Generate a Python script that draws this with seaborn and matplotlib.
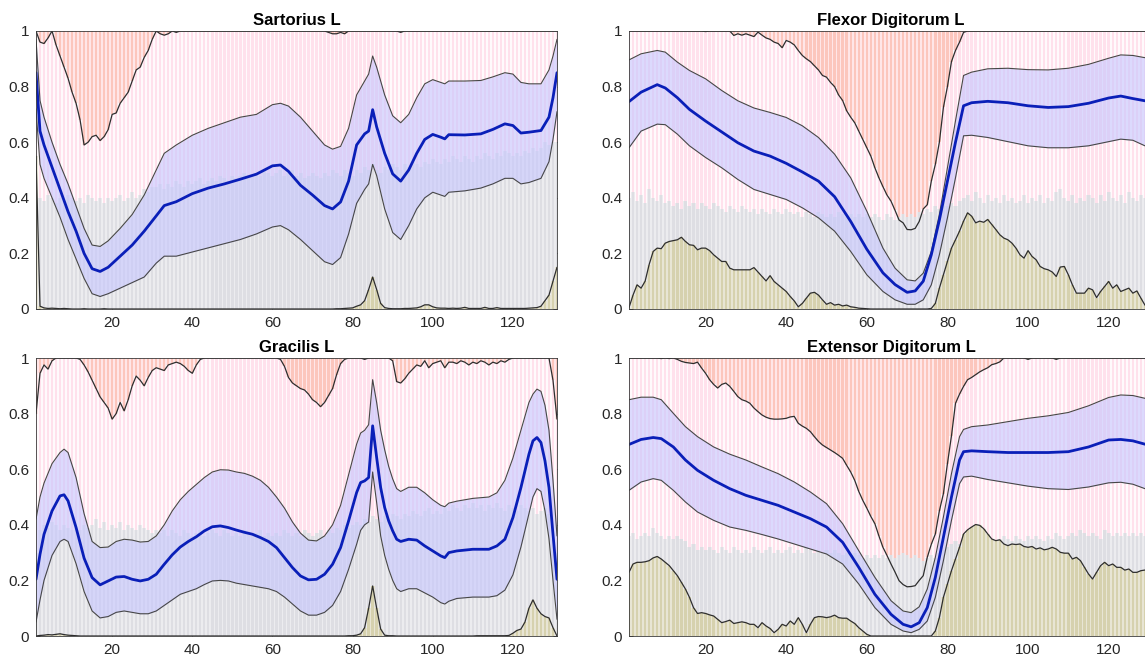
import numpy as np
import pandas as pd
import matplotlib
matplotlib.use("Agg")
import matplotlib.pyplot as plt
import seaborn as sns

# ---------------------------------------------------------------- data
TITLES = ["Sartorius L", "Flexor Digitorum L", "Gracilis L", "Extensor Digitorum L"]
X_TICKS = [20, 40, 60, 80, 100, 120]
Y_TICKS = [0, 0.2, 0.4, 0.6, 0.8, 1]
Y_TICK_LABELS = ["0", "0.2", "0.4", "0.6", "0.8", "1"]

# ---- Sartorius L : mean curve and its band at read-off positions
SART_KX = [1, 2, 3, 5, 7, 9, 11, 13, 15, 17,
           19, 22, 25, 28, 31, 33, 36, 40, 44, 48,
           52, 56, 60, 62, 64, 67, 70, 73, 75, 77,
           79, 81, 83, 84, 85, 86, 88, 90, 92, 94,
           96, 98, 100, 102, 103, 104, 108, 112, 115, 118,
           120, 122, 124, 127, 129, 130, 131]
SART_MEAN = [0.85, 0.64, 0.59, 0.51, 0.43, 0.35, 0.28, 0.20, 0.145, 0.135,
             0.15, 0.19, 0.23, 0.28, 0.335, 0.372, 0.386, 0.415, 0.435, 0.45,
             0.467, 0.485, 0.515, 0.518, 0.495, 0.445, 0.41, 0.372, 0.36, 0.385,
             0.46, 0.59, 0.63, 0.64, 0.717, 0.655, 0.56, 0.486, 0.46, 0.50,
             0.56, 0.61, 0.628, 0.618, 0.612, 0.627, 0.626, 0.63, 0.646, 0.666,
             0.66, 0.633, 0.636, 0.642, 0.69, 0.76, 0.85]
SART_HI = [0.97, 0.75, 0.69, 0.60, 0.52, 0.45, 0.37, 0.29, 0.23, 0.225,
           0.245, 0.29, 0.34, 0.41, 0.50, 0.56, 0.59, 0.625, 0.65, 0.67,
           0.69, 0.70, 0.735, 0.74, 0.73, 0.69, 0.64, 0.59, 0.575, 0.585,
           0.65, 0.77, 0.82, 0.845, 0.91, 0.87, 0.77, 0.695, 0.67, 0.70,
           0.76, 0.81, 0.825, 0.815, 0.81, 0.82, 0.82, 0.822, 0.835, 0.85,
           0.845, 0.815, 0.81, 0.81, 0.86, 0.91, 0.97]
SART_LO = [0.72, 0.52, 0.47, 0.40, 0.33, 0.25, 0.18, 0.11, 0.055, 0.045,
           0.055, 0.075, 0.095, 0.115, 0.165, 0.19, 0.19, 0.205, 0.22, 0.235,
           0.25, 0.27, 0.295, 0.30, 0.285, 0.25, 0.21, 0.17, 0.16, 0.185,
           0.27, 0.38, 0.43, 0.45, 0.52, 0.48, 0.36, 0.275, 0.25, 0.30,
           0.36, 0.40, 0.42, 0.41, 0.405, 0.42, 0.425, 0.435, 0.45, 0.47,
           0.47, 0.45, 0.455, 0.47, 0.53, 0.61, 0.71]
# per-sample (1..131) bar series
SART_UPPER = [1.0, 0.96, 0.955, 0.975, 1.0, 0.95, 0.91, 0.87, 0.83, 0.78,
              0.74, 0.68, 0.59, 0.60, 0.62, 0.625, 0.606, 0.62, 0.645, 0.70,
              0.705, 0.74, 0.76, 0.78, 0.82, 0.86, 0.87, 0.905, 0.93, 0.97,
              1.0, 0.99, 0.985, 0.99, 1.0, 0.995, 1.0, 1.0, 1.0, 1.0,
              1.0, 1.0, 1.0, 1.0, 1.0, 1.0, 1.0, 1.0, 1.0, 1.0,
              1.0, 1.0, 1.0, 1.0, 1.0, 1.0, 1.0, 1.0, 1.0, 1.0,
              1.0, 1.0, 1.0, 1.0, 1.0, 1.0, 1.0, 1.0, 1.0, 1.0,
              1.0, 1.0, 1.0, 0.995, 0.99, 0.99, 0.995, 0.99, 1.0, 1.0,
              1.0, 1.0, 1.0, 1.0, 1.0, 1.0, 1.0, 1.0, 1.0, 1.0,
              1.0, 0.995, 1.0, 1.0, 1.0, 1.0, 1.0, 1.0, 1.0, 1.0,
              1.0, 1.0, 1.0, 1.0, 1.0, 1.0, 1.0, 1.0, 1.0, 1.0,
              1.0, 1.0, 1.0, 1.0, 1.0, 1.0, 1.0, 1.0, 1.0, 1.0,
              1.0, 1.0, 1.0, 1.0, 1.0, 1.0, 1.0, 1.0, 1.0, 1.0, 1.0]
SART_LOWER = [0.55, 0.01, 0.004, 0.002, 0.003, 0.002, 0.001, 0.002, 0.001, 0.0,
              0.0, 0.0, 0.001, 0.0, 0.0, 0.0, 0.0, 0.001, 0.0, 0.0,
              0.0, 0.0, 0.0, 0.0, 0.0, 0.0, 0.0, 0.0, 0.0, 0.0,
              0.0, 0.0, 0.0, 0.0, 0.0, 0.0, 0.0, 0.0, 0.0, 0.0,
              0.0, 0.0, 0.0, 0.0, 0.0, 0.0, 0.0, 0.0, 0.0, 0.0,
              0.0, 0.0, 0.0, 0.0, 0.0, 0.0, 0.0, 0.0, 0.0, 0.0,
              0.0, 0.0, 0.0, 0.0, 0.0, 0.0, 0.0, 0.0, 0.0, 0.0,
              0.0, 0.0, 0.0, 0.0, 0.0, 0.001, 0.001, 0.002, 0.003, 0.004,
              0.01, 0.015, 0.03, 0.07, 0.115, 0.07, 0.02, 0.005, 0.002, 0.001,
              0.001, 0.001, 0.002, 0.002, 0.003, 0.004, 0.008, 0.015, 0.015, 0.008,
              0.004, 0.003, 0.003, 0.002, 0.003, 0.002, 0.003, 0.006, 0.002, 0.002,
              0.002, 0.002, 0.006, 0.002, 0.002, 0.005, 0.002, 0.002, 0.002, 0.002,
              0.002, 0.002, 0.002, 0.003, 0.004, 0.005, 0.01, 0.03, 0.05, 0.10, 0.15]
SART_GRAY = [0.55, 0.40, 0.39, 0.41, 0.40, 0.38, 0.40, 0.39, 0.41, 0.40,
             0.39, 0.40, 0.38, 0.41, 0.40, 0.39, 0.40, 0.38, 0.40, 0.39,
             0.40, 0.41, 0.39, 0.40, 0.42, 0.40, 0.41, 0.43, 0.42, 0.44,
             0.44, 0.45, 0.43, 0.45, 0.44, 0.46, 0.45, 0.44, 0.46, 0.45,
             0.46, 0.47, 0.45, 0.46, 0.47, 0.46, 0.48, 0.47, 0.46, 0.48,
             0.47, 0.48, 0.49, 0.47, 0.48, 0.49, 0.48, 0.50, 0.49, 0.48,
             0.49, 0.50, 0.48, 0.49, 0.50, 0.48, 0.49, 0.47, 0.48, 0.49,
             0.48, 0.47, 0.49, 0.48, 0.50, 0.49, 0.48, 0.50, 0.49, 0.48,
             0.50, 0.49, 0.51, 0.50, 0.52, 0.50, 0.49, 0.51, 0.50, 0.52,
             0.51, 0.50, 0.52, 0.51, 0.53, 0.52, 0.51, 0.53, 0.52, 0.54,
             0.53, 0.52, 0.54, 0.53, 0.55, 0.54, 0.53, 0.55, 0.54, 0.53,
             0.55, 0.54, 0.56, 0.55, 0.54, 0.56, 0.55, 0.57, 0.56, 0.55,
             0.56, 0.55, 0.57, 0.56, 0.58, 0.57, 0.58, 0.60, 0.59, 0.60, 0.60]

# ---- Flexor Digitorum L
FLEX_KX = [1, 4, 8, 10, 13, 16, 20, 24, 28, 32,
           36, 40, 44, 48, 52, 56, 60, 64, 67, 70,
           72, 74, 76, 78, 80, 82, 84, 86, 90, 95,
           100, 105, 110, 115, 120, 123, 126, 129, 131]
FLEX_MEAN = [0.746, 0.78, 0.807, 0.795, 0.76, 0.718, 0.676, 0.637, 0.598, 0.568,
             0.55, 0.524, 0.493, 0.46, 0.404, 0.315, 0.215, 0.13, 0.088, 0.06,
             0.065, 0.10, 0.195, 0.32, 0.46, 0.60, 0.731, 0.742, 0.747, 0.742,
             0.731, 0.725, 0.728, 0.74, 0.759, 0.766, 0.757, 0.749, 0.74]
FLEX_HI = [0.896, 0.918, 0.93, 0.924, 0.888, 0.858, 0.828, 0.786, 0.749, 0.723,
           0.707, 0.689, 0.659, 0.617, 0.557, 0.472, 0.352, 0.219, 0.147, 0.105,
           0.101, 0.129, 0.207, 0.34, 0.508, 0.677, 0.84, 0.852, 0.864, 0.866,
           0.861, 0.86, 0.866, 0.88, 0.902, 0.914, 0.912, 0.904, 0.90]
FLEX_LO = [0.58, 0.64, 0.665, 0.663, 0.629, 0.587, 0.545, 0.508, 0.466, 0.43,
           0.412, 0.394, 0.364, 0.328, 0.28, 0.207, 0.123, 0.063, 0.033, 0.017,
           0.017, 0.033, 0.087, 0.195, 0.328, 0.472, 0.623, 0.625, 0.617, 0.602,
           0.587, 0.58, 0.58, 0.587, 0.602, 0.611, 0.607, 0.587, 0.58]
FLEX_UPPER = [1.0, 1.0, 1.0, 1.0, 1.0, 1.0, 1.0, 1.0, 1.0, 1.0,
              1.0, 1.0, 1.0, 1.0, 1.0, 1.0, 1.0, 1.0, 1.0, 0.998,
              1.0, 1.0, 1.0, 1.0, 1.0, 1.0, 0.984, 0.99, 0.985, 0.99,
              0.985, 0.98, 0.996, 0.985, 0.975, 0.97, 0.96, 0.955, 0.94, 0.966,
              0.96, 0.95, 0.93, 0.912, 0.90, 0.89, 0.875, 0.86, 0.84, 0.834,
              0.815, 0.80, 0.77, 0.75, 0.713, 0.69, 0.67, 0.64, 0.61, 0.58,
              0.55, 0.508, 0.472, 0.44, 0.41, 0.388, 0.355, 0.32, 0.31, 0.286,
              0.285, 0.29, 0.315, 0.36, 0.375, 0.46, 0.52, 0.60, 0.725, 0.80,
              0.89, 0.93, 0.96, 0.995, 1.0, 1.0, 1.0, 1.0, 1.0, 1.0,
              1.0, 1.0, 1.0, 1.0, 1.0, 1.0, 1.0, 1.0, 1.0, 1.0,
              1.0, 1.0, 1.0, 1.0, 1.0, 1.0, 1.0, 1.0, 1.0, 1.0,
              1.0, 1.0, 1.0, 1.0, 1.0, 1.0, 1.0, 1.0, 1.0, 1.0,
              1.0, 1.0, 1.0, 1.0, 1.0, 1.0, 1.0, 1.0, 1.0, 1.0, 1.0]
FLEX_LOWER = [0.005, 0.05, 0.087, 0.075, 0.10, 0.16, 0.207, 0.219, 0.217, 0.237,
              0.243, 0.246, 0.249, 0.258, 0.243, 0.231, 0.229, 0.213, 0.219, 0.219,
              0.21, 0.195, 0.183, 0.171, 0.171, 0.147, 0.141, 0.141, 0.141, 0.141,
              0.141, 0.149, 0.133, 0.117, 0.101, 0.12, 0.099, 0.087, 0.075, 0.063,
              0.045, 0.029, 0.008, 0.02, 0.039, 0.057, 0.06, 0.05, 0.033, 0.017,
              0.023, 0.014, 0.017, 0.011, 0.014, 0.008, 0.006, 0.003, 0.002, 0.001,
              0.0, 0.0, 0.0, 0.0, 0.0, 0.0, 0.0, 0.0, 0.0, 0.0,
              0.0, 0.0, 0.0, 0.0, 0.0, 0.002, 0.02, 0.075, 0.123, 0.171,
              0.219, 0.249, 0.28, 0.316, 0.346, 0.334, 0.31, 0.316, 0.312, 0.322,
              0.304, 0.286, 0.267, 0.255, 0.249, 0.237, 0.219, 0.195, 0.183, 0.21,
              0.189, 0.177, 0.153, 0.145, 0.141, 0.133, 0.117, 0.151, 0.153, 0.123,
              0.087, 0.057, 0.057, 0.057, 0.075, 0.069, 0.041, 0.063, 0.081, 0.099,
              0.075, 0.087, 0.063, 0.069, 0.075, 0.057, 0.065, 0.039, 0.014, 0.01, 0.01]
FLEX_GRAY = [0.40, 0.42, 0.39, 0.41, 0.38, 0.43, 0.40, 0.39, 0.41, 0.38,
             0.39, 0.37, 0.38, 0.36, 0.39, 0.37, 0.38, 0.36, 0.38, 0.37,
             0.36, 0.38, 0.37, 0.36, 0.35, 0.37, 0.36, 0.35, 0.37, 0.36,
             0.35, 0.36, 0.34, 0.36, 0.35, 0.34, 0.36, 0.35, 0.34, 0.36,
             0.35, 0.34, 0.35, 0.33, 0.35, 0.34, 0.33, 0.35, 0.34, 0.33,
             0.34, 0.33, 0.35, 0.34, 0.33, 0.34, 0.33, 0.34, 0.33, 0.34,
             0.33, 0.34, 0.33, 0.32, 0.34, 0.33, 0.32, 0.33, 0.34, 0.33,
             0.34, 0.33, 0.35, 0.34, 0.36, 0.35, 0.37, 0.36, 0.38, 0.37,
             0.38, 0.37, 0.39, 0.40, 0.41, 0.39, 0.42, 0.40, 0.38, 0.41,
             0.39, 0.40, 0.38, 0.41, 0.39, 0.40, 0.38, 0.39, 0.41, 0.38,
             0.40, 0.39, 0.41, 0.38, 0.40, 0.39, 0.42, 0.43, 0.40, 0.39,
             0.41, 0.38, 0.40, 0.39, 0.41, 0.40, 0.38, 0.41, 0.39, 0.42,
             0.40, 0.39, 0.41, 0.38, 0.42, 0.40, 0.39, 0.41, 0.40, 0.39, 0.40]

# ---- Gracilis L
GRAC_KX = [1, 2, 3, 5, 7, 8, 9, 11, 13, 15,
           17, 19, 21, 23, 25, 27, 29, 31, 33, 35,
           37, 39, 41, 43, 45, 47, 49, 51, 53, 55,
           57, 59, 61, 63, 65, 67, 69, 71, 73, 75,
           77, 79, 81, 82, 83, 84, 85, 86, 87, 88,
           89, 90, 91, 92, 94, 96, 98, 100, 102, 103,
           104, 106, 110, 114, 116, 118, 120, 122, 124, 125,
           126, 127, 128, 129, 130, 131]
GRAC_MEAN = [0.204, 0.294, 0.366, 0.45, 0.504, 0.508, 0.486, 0.39, 0.28, 0.21,
             0.184, 0.198, 0.212, 0.214, 0.204, 0.198, 0.204, 0.222, 0.258, 0.292,
             0.32, 0.34, 0.357, 0.378, 0.393, 0.396, 0.39, 0.381, 0.373, 0.366,
             0.354, 0.34, 0.318, 0.282, 0.246, 0.216, 0.202, 0.204, 0.222, 0.258,
             0.318, 0.414, 0.516, 0.552, 0.558, 0.57, 0.756, 0.642, 0.534, 0.462,
             0.414, 0.378, 0.348, 0.34, 0.348, 0.345, 0.324, 0.306, 0.288, 0.282,
             0.30, 0.306, 0.312, 0.312, 0.324, 0.348, 0.426, 0.534, 0.654, 0.702,
             0.714, 0.696, 0.63, 0.534, 0.366, 0.204]
GRAC_HI = [0.42, 0.50, 0.55, 0.62, 0.66, 0.672, 0.66, 0.57, 0.44, 0.34,
           0.318, 0.32, 0.34, 0.348, 0.345, 0.338, 0.34, 0.36, 0.40, 0.45,
           0.49, 0.52, 0.545, 0.57, 0.59, 0.598, 0.597, 0.59, 0.585, 0.575,
           0.56, 0.535, 0.50, 0.46, 0.41, 0.37, 0.345, 0.342, 0.36, 0.40,
           0.47, 0.58, 0.69, 0.73, 0.74, 0.76, 0.922, 0.84, 0.74, 0.67,
           0.61, 0.565, 0.53, 0.52, 0.535, 0.535, 0.515, 0.49, 0.47, 0.465,
           0.478, 0.485, 0.495, 0.50, 0.515, 0.56, 0.64, 0.74, 0.84, 0.87,
           0.888, 0.88, 0.83, 0.74, 0.56, 0.36]
GRAC_LO = [0.05, 0.13, 0.20, 0.29, 0.34, 0.348, 0.34, 0.26, 0.16, 0.09,
           0.065, 0.07, 0.085, 0.09, 0.085, 0.08, 0.08, 0.09, 0.11, 0.13,
           0.15, 0.16, 0.17, 0.185, 0.198, 0.20, 0.198, 0.19, 0.185, 0.18,
           0.175, 0.17, 0.16, 0.14, 0.115, 0.09, 0.075, 0.075, 0.085, 0.11,
           0.16, 0.24, 0.33, 0.38, 0.40, 0.41, 0.59, 0.48, 0.36, 0.29,
           0.24, 0.20, 0.17, 0.16, 0.17, 0.17, 0.155, 0.14, 0.12, 0.115,
           0.125, 0.135, 0.14, 0.14, 0.145, 0.165, 0.22, 0.32, 0.44, 0.50,
           0.53, 0.52, 0.45, 0.35, 0.20, 0.06]
GRAC_UPPER = [0.80, 0.945, 0.975, 0.96, 0.99, 1.0, 1.0, 1.0, 1.0, 1.0,
              1.0, 0.995, 0.975, 0.95, 0.92, 0.89, 0.86, 0.84, 0.82, 0.78,
              0.80, 0.84, 0.81, 0.85, 0.90, 0.935, 0.92, 0.90, 0.93, 0.955,
              0.965, 0.96, 0.955, 0.975, 0.98, 0.985, 0.98, 0.97, 0.955, 0.945,
              0.975, 0.995, 1.0, 1.0, 1.0, 1.0, 1.0, 1.0, 1.0, 1.0,
              1.0, 1.0, 1.0, 1.0, 1.0, 1.0, 1.0, 1.0, 1.0, 1.0,
              1.0, 0.995, 0.97, 0.93, 0.91, 0.90, 0.89, 0.885, 0.87, 0.85,
              0.84, 0.825, 0.84, 0.865, 0.89, 0.94, 0.98, 0.995, 1.0, 1.0,
              1.0, 1.0, 0.995, 1.0, 1.0, 1.0, 1.0, 1.0, 1.0, 0.99,
              0.915, 0.91, 0.925, 0.945, 0.96, 0.975, 0.97, 0.99, 0.965, 0.98,
              0.985, 0.99, 0.965, 0.985, 0.985, 0.98, 0.99, 0.985, 0.975, 0.985,
              0.98, 0.99, 0.985, 0.975, 0.985, 0.98, 0.99, 0.985, 0.995, 1.0,
              1.0, 1.0, 1.0, 1.0, 1.0, 1.0, 1.0, 1.0, 1.0, 0.92, 0.78]
GRAC_LOWER = [0.0, 0.002, 0.003, 0.005, 0.004, 0.006, 0.008, 0.005, 0.003, 0.002,
              0.001, 0.0, 0.0, 0.0, 0.0, 0.0, 0.0, 0.0, 0.0, 0.0,
              0.0, 0.0, 0.0, 0.0, 0.0, 0.0, 0.0, 0.0, 0.0, 0.0,
              0.0, 0.0, 0.0, 0.0, 0.0, 0.0, 0.0, 0.0, 0.0, 0.0,
              0.0, 0.0, 0.0, 0.0, 0.0, 0.0, 0.0, 0.0, 0.0, 0.0,
              0.0, 0.0, 0.0, 0.0, 0.0, 0.0, 0.0, 0.0, 0.0, 0.0,
              0.0, 0.0, 0.0, 0.0, 0.0, 0.0, 0.0, 0.0, 0.0, 0.0,
              0.0, 0.0, 0.0, 0.0, 0.0, 0.0, 0.0, 0.0, 0.001, 0.001,
              0.003, 0.008, 0.03, 0.10, 0.18, 0.10, 0.025, 0.003, 0.001, 0.001,
              0.0, 0.0, 0.0, 0.0, 0.0, 0.0, 0.0, 0.0, 0.0, 0.0,
              0.0, 0.0, 0.0, 0.0, 0.0, 0.0, 0.0, 0.0, 0.0, 0.0,
              0.001, 0.001, 0.001, 0.001, 0.001, 0.001, 0.001, 0.001, 0.002, 0.01,
              0.02, 0.025, 0.05, 0.10, 0.13, 0.10, 0.08, 0.07, 0.065, 0.03, 0.0]
GRAC_GRAY = [0.30, 0.38, 0.40, 0.39, 0.41, 0.40, 0.38, 0.40, 0.39, 0.38,
             0.39, 0.38, 0.40, 0.39, 0.40, 0.42, 0.39, 0.41, 0.38, 0.40,
             0.39, 0.41, 0.38, 0.40, 0.39, 0.38, 0.40, 0.39, 0.38, 0.37,
             0.38, 0.37, 0.38, 0.36, 0.38, 0.37, 0.36, 0.38, 0.37, 0.36,
             0.37, 0.38, 0.36, 0.37, 0.38, 0.37, 0.36, 0.38, 0.37, 0.36,
             0.37, 0.36, 0.38, 0.37, 0.36, 0.37, 0.38, 0.36, 0.37, 0.36,
             0.37, 0.36, 0.38, 0.37, 0.36, 0.37, 0.36, 0.38, 0.37, 0.36,
             0.37, 0.38, 0.36, 0.38, 0.37, 0.39, 0.38, 0.40, 0.39, 0.40,
             0.41, 0.40, 0.42, 0.41, 0.43, 0.42, 0.41, 0.43, 0.42, 0.44,
             0.43, 0.42, 0.44, 0.43, 0.45, 0.44, 0.43, 0.45, 0.46, 0.44,
             0.45, 0.44, 0.46, 0.45, 0.47, 0.46, 0.45, 0.47, 0.46, 0.48,
             0.46, 0.47, 0.45, 0.47, 0.46, 0.48, 0.46, 0.45, 0.47, 0.46,
             0.45, 0.47, 0.46, 0.45, 0.46, 0.44, 0.45, 0.46, 0.44, 0.35, 0.30]

# ---- Extensor Digitorum L
EXT_KX = [1, 4, 7, 9, 12, 15, 18, 22, 26, 30,
          34, 38, 42, 46, 50, 54, 58, 62, 66, 69,
          71, 73, 75, 77, 79, 81, 83, 84, 86, 90,
          95, 100, 105, 110, 115, 120, 123, 126, 129, 131]
EXT_MEAN = [0.689, 0.707, 0.714, 0.71, 0.68, 0.633, 0.596, 0.56, 0.53, 0.506,
            0.488, 0.47, 0.446, 0.422, 0.392, 0.337, 0.247, 0.15, 0.078, 0.042,
            0.033, 0.048, 0.102, 0.211, 0.355, 0.50, 0.633, 0.663, 0.666, 0.663,
            0.66, 0.66, 0.66, 0.663, 0.68, 0.705, 0.707, 0.702, 0.69, 0.685]
EXT_HI = [0.85, 0.859, 0.859, 0.85, 0.801, 0.753, 0.717, 0.68, 0.654, 0.633,
          0.608, 0.584, 0.554, 0.518, 0.476, 0.404, 0.307, 0.211, 0.127, 0.09,
          0.084, 0.105, 0.169, 0.283, 0.428, 0.584, 0.717, 0.743, 0.753, 0.759,
          0.771, 0.783, 0.792, 0.804, 0.828, 0.858, 0.867, 0.865, 0.855, 0.85]
EXT_LO = [0.524, 0.554, 0.566, 0.56, 0.524, 0.482, 0.446, 0.416, 0.392, 0.38,
          0.365, 0.349, 0.331, 0.313, 0.295, 0.259, 0.187, 0.102, 0.042, 0.018,
          0.012, 0.024, 0.054, 0.139, 0.271, 0.416, 0.548, 0.572, 0.575, 0.563,
          0.551, 0.539, 0.53, 0.527, 0.536, 0.551, 0.553, 0.546, 0.53, 0.52]
EXT_UPPER = [1.0, 1.0, 1.0, 1.0, 1.0, 1.0, 1.0, 1.0, 0.998, 1.0,
             0.998, 1.0, 0.995, 0.988, 0.984, 0.982, 0.98, 0.985, 0.964, 0.945,
             0.922, 0.905, 0.892, 0.905, 0.91, 0.898, 0.88, 0.861, 0.85, 0.845,
             0.837, 0.82, 0.807, 0.795, 0.787, 0.782, 0.78, 0.78, 0.781, 0.783,
             0.788, 0.79, 0.765, 0.755, 0.747, 0.735, 0.717, 0.70, 0.687, 0.678,
             0.669, 0.66, 0.65, 0.639, 0.614, 0.59, 0.56, 0.52, 0.488, 0.46,
             0.43, 0.404, 0.36, 0.319, 0.29, 0.259, 0.23, 0.199, 0.185, 0.177,
             0.178, 0.181, 0.20, 0.217, 0.283, 0.33, 0.367, 0.45, 0.512, 0.62,
             0.72, 0.837, 0.87, 0.898, 0.922, 0.93, 0.94, 0.95, 0.958, 0.965,
             0.976, 0.98, 0.986, 1.0, 1.0, 1.0, 1.0, 1.0, 1.0, 0.995,
             1.0, 1.0, 1.0, 1.0, 1.0, 1.0, 0.995, 1.0, 1.0, 1.0,
             1.0, 1.0, 1.0, 1.0, 1.0, 1.0, 1.0, 1.0, 1.0, 1.0,
             1.0, 1.0, 1.0, 1.0, 1.0, 1.0, 1.0, 1.0, 1.0, 1.0, 1.0]
EXT_LOWER = [0.229, 0.259, 0.265, 0.265, 0.267, 0.271, 0.281, 0.286, 0.277, 0.265,
             0.253, 0.235, 0.217, 0.193, 0.169, 0.139, 0.102, 0.081, 0.084, 0.081,
             0.076, 0.072, 0.06, 0.048, 0.052, 0.057, 0.045, 0.048, 0.051, 0.048,
             0.042, 0.042, 0.03, 0.048, 0.036, 0.027, 0.012, 0.024, 0.042, 0.036,
             0.054, 0.042, 0.066, 0.042, 0.012, 0.042, 0.066, 0.07, 0.069, 0.066,
             0.069, 0.075, 0.066, 0.064, 0.064, 0.054, 0.045, 0.03, 0.018, 0.006,
             0.0, 0.0, 0.0, 0.0, 0.0, 0.0, 0.0, 0.0, 0.0, 0.0,
             0.0, 0.0, 0.0, 0.0, 0.0, 0.0, 0.018, 0.066, 0.139, 0.187,
             0.235, 0.277, 0.319, 0.367, 0.382, 0.392, 0.401, 0.398, 0.386, 0.367,
             0.349, 0.343, 0.346, 0.331, 0.325, 0.331, 0.329, 0.331, 0.322, 0.319,
             0.322, 0.313, 0.317, 0.31, 0.313, 0.319, 0.313, 0.301, 0.298, 0.298,
             0.277, 0.283, 0.271, 0.247, 0.223, 0.205, 0.229, 0.253, 0.265, 0.253,
             0.259, 0.247, 0.247, 0.237, 0.241, 0.229, 0.229, 0.235, 0.237, 0.24, 0.24]
EXT_GRAY = [0.36, 0.37, 0.35, 0.36, 0.37, 0.36, 0.39, 0.37, 0.36, 0.35,
            0.36, 0.35, 0.36, 0.35, 0.34, 0.32, 0.33, 0.31, 0.32, 0.31,
            0.32, 0.31, 0.30, 0.32, 0.31, 0.30, 0.32, 0.31, 0.30, 0.31,
            0.30, 0.32, 0.31, 0.30, 0.31, 0.32, 0.30, 0.31, 0.30, 0.31,
            0.32, 0.30, 0.31, 0.30, 0.32, 0.31, 0.30, 0.31, 0.30, 0.31,
            0.30, 0.31, 0.30, 0.29, 0.30, 0.29, 0.30, 0.29, 0.28, 0.29,
            0.28, 0.29, 0.28, 0.29, 0.28, 0.29, 0.28, 0.29, 0.30, 0.29,
            0.28, 0.29, 0.28, 0.27, 0.28, 0.29, 0.28, 0.30, 0.31, 0.32,
            0.33, 0.34, 0.33, 0.35, 0.36, 0.35, 0.36, 0.35, 0.34, 0.36,
            0.35, 0.34, 0.35, 0.36, 0.35, 0.34, 0.36, 0.35, 0.34, 0.36,
            0.35, 0.36, 0.35, 0.34, 0.36, 0.35, 0.37, 0.36, 0.35, 0.36,
            0.37, 0.36, 0.38, 0.37, 0.36, 0.37, 0.36, 0.35, 0.38, 0.37,
            0.36, 0.37, 0.36, 0.37, 0.36, 0.37, 0.36, 0.37, 0.36, 0.36, 0.36]

# ---------------------------------------------------------------- style
PINK, PINK_GAP = "#ffe1ec", "#fffafc"
SALMON, SALMON_GAP = "#fcc6bd", "#ffe6e8"
GRAY, GRAY_GAP = "#dedee3", "#ececef"
OLIVE, OLIVE_GAP = "#d6d1ae", "#e8e5d4"
BAND = "#c6c6ff"
EDGE = "#474747"
DARK = "#2e2e2e"
BLUE = "#0a1fb8"
TXT = "#262626"

sns.set_theme(style="white")
plt.rcParams["font.family"] = ["Liberation Sans", "DejaVu Sans"]

W, H = 1145, 663
fig = plt.figure(figsize=(W / 100, H / 100), dpi=100)

# axes rectangles in pixels: left, top, right, bottom
RECTS = [(36, 31, 557, 309), (629, 31, 1153, 309),
         (36, 358, 557, 636), (629, 358, 1153, 636)]

PANELS = [
    (SART_KX, SART_MEAN, SART_HI, SART_LO, SART_UPPER, SART_LOWER, SART_GRAY),
    (FLEX_KX, FLEX_MEAN, FLEX_HI, FLEX_LO, FLEX_UPPER, FLEX_LOWER, FLEX_GRAY),
    (GRAC_KX, GRAC_MEAN, GRAC_HI, GRAC_LO, GRAC_UPPER, GRAC_LOWER, GRAC_GRAY),
    (EXT_KX, EXT_MEAN, EXT_HI, EXT_LO, EXT_UPPER, EXT_LOWER, EXT_GRAY),
]

STRIPE_W = 0.58

for title, rect, panel in zip(TITLES, RECTS, PANELS):
    kx, mean, hi, lo, upper, lower, gray = panel
    l, t, r, b = rect
    ax = fig.add_axes([l / W, 1 - b / H, (r - l) / W, (b - t) / H])

    n = len(upper)
    x = np.arange(1, n + 1)
    up = np.asarray(upper)
    lw_ = np.asarray(lower)
    gr = np.asarray(gray)
    ones = np.ones(n)

    # background striped bars
    ax.bar(x, ones, width=1.0, color=PINK_GAP, linewidth=0, zorder=1.0)
    ax.bar(x, ones, width=STRIPE_W, color=PINK, linewidth=0, zorder=1.05)
    ax.bar(x, 1 - up, bottom=up, width=1.0, color=SALMON_GAP, linewidth=0, zorder=1.1)
    ax.bar(x, 1 - up, bottom=up, width=STRIPE_W, color=SALMON, linewidth=0, zorder=1.15)
    ax.bar(x, gr, width=1.0, color=GRAY_GAP, linewidth=0, zorder=1.2)
    ax.bar(x, gr, width=STRIPE_W, color=GRAY, linewidth=0, zorder=1.25)
    ax.bar(x, lw_, width=1.0, color=OLIVE_GAP, linewidth=0, zorder=1.3)
    ax.bar(x, lw_, width=STRIPE_W, color=OLIVE, linewidth=0, zorder=1.35)

    # confidence band
    band = pd.DataFrame({"x": kx, "mean": mean, "hi": hi, "lo": lo})
    ax.fill_between(band["x"], band["lo"], band["hi"], color=BAND, alpha=0.6,
                    linewidth=0, zorder=2)

    bars = pd.DataFrame({"x": x, "upper": up, "lower": lw_})
    sns.lineplot(data=bars, x="x", y="upper", ax=ax, color=DARK, linewidth=0.9,
                 estimator=None, sort=False, legend=False, zorder=3)
    sns.lineplot(data=bars, x="x", y="lower", ax=ax, color=DARK, linewidth=0.9,
                 estimator=None, sort=False, legend=False, zorder=3)
    sns.lineplot(data=band, x="x", y="hi", ax=ax, color=EDGE, linewidth=0.8,
                 estimator=None, sort=False, legend=False, zorder=3.1)
    sns.lineplot(data=band, x="x", y="lo", ax=ax, color=EDGE, linewidth=0.8,
                 estimator=None, sort=False, legend=False, zorder=3.1)
    sns.lineplot(data=band, x="x", y="mean", ax=ax, color=BLUE, linewidth=2.0,
                 estimator=None, sort=False, legend=False, zorder=4)

    ax.set_xlim(1, n)
    ax.set_ylim(0, 1)
    ax.set_xticks(X_TICKS)
    ax.set_xticklabels([str(v) for v in X_TICKS])
    ax.set_yticks(Y_TICKS)
    ax.set_yticklabels(Y_TICK_LABELS)
    ax.set_xlabel("")
    ax.set_ylabel("")
    ax.set_title(title, fontsize=12, fontweight="bold", color="black", pad=4)
    ax.tick_params(axis="both", direction="in", length=3, width=0.6,
                   colors=TXT, labelsize=11, top=True, right=True,
                   bottom=True, left=True, pad=5)
    for s in ax.spines.values():
        s.set_visible(True)
        s.set_color("#3a3a3a")
        s.set_linewidth(0.6)
        s.set_zorder(5)

fig.savefig("out.png", dpi=100)
